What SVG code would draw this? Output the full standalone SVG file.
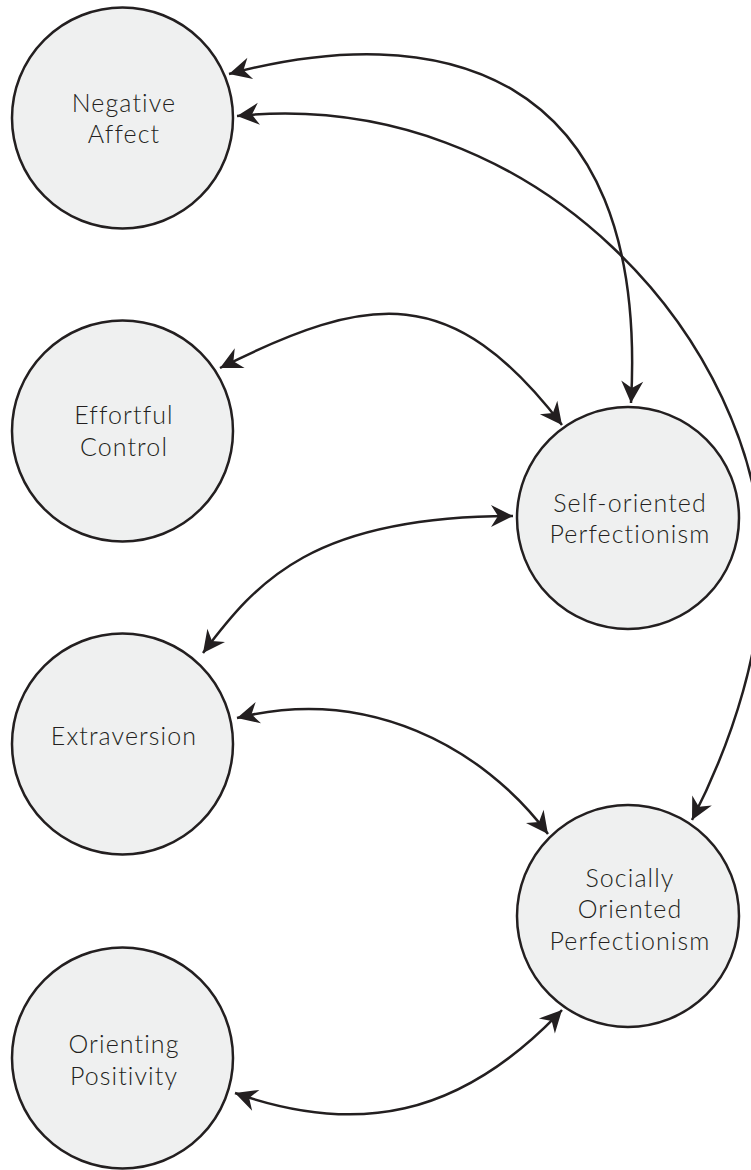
<svg xmlns="http://www.w3.org/2000/svg" width="751" height="1170" viewBox="0 0 751 1170">
  <style>
    .node circle { fill: #eff0f0; stroke: #231f20; stroke-width: 2.5; }
    .node text { font-family: Lato, "Liberation Sans", sans-serif; font-weight: 300; font-size: 25px; letter-spacing: 1.1px; fill: #231f20; text-anchor: middle; }
    .edge { fill: none; stroke: #231f20; stroke-width: 2.5; marker-start: url(#arrow); marker-end: url(#arrow); }
  </style>
  <defs>
    <marker id="arrow" markerUnits="userSpaceOnUse" viewBox="-24 -13 26 26" markerWidth="26" markerHeight="26" refX="0" refY="0" orient="auto-start-reverse">
      <path d="M0,0 L-22,-11 L-15,0 L-22,11 Z" fill="#231f20"/>
    </marker>
  </defs>
  <rect width="751" height="1170" fill="#ffffff"/>

  <g id="node-negative-affect" class="node">
    <circle cx="122.5" cy="118" r="110.5"/>
    <text x="124" y="112">Negative</text>
    <text x="124" y="143">Affect</text>
  </g>
  <g id="node-effortful-control" class="node">
    <circle cx="122.5" cy="431" r="110.5"/>
    <text x="124" y="424">Effortful</text>
    <text x="124" y="456">Control</text>
  </g>
  <g id="node-extraversion" class="node">
    <circle cx="122.5" cy="744" r="110.5"/>
    <text x="124" y="745">Extraversion</text>
  </g>
  <g id="node-orienting-positivity" class="node">
    <circle cx="122.5" cy="1058" r="110.5"/>
    <text x="124" y="1053">Orienting</text>
    <text x="124" y="1085">Positivity</text>
  </g>
  <g id="node-self-oriented" class="node">
    <circle cx="628" cy="518" r="111"/>
    <text x="630" y="512">Self-oriented</text>
    <text x="630" y="543">Perfectionism</text>
  </g>
  <g id="node-socially-oriented" class="node">
    <circle cx="628" cy="916" r="111"/>
    <text x="630" y="887">Socially</text>
    <text x="630" y="918">Oriented</text>
    <text x="630" y="950">Perfectionism</text>
  </g>

  <g id="connectors">
    <path class="edge" d="M229,74 C430,20 650,60 631,403"/>
    <path class="edge" d="M237,116 C537,86 762,345 762,565 C762,645 735,736 692,820"/>
    <path class="edge" d="M220,368 C370,293 452,282 562,425"/>
    <path class="edge" d="M513,516 C313,516 257,581 203,653"/>
    <path class="edge" d="M237,718 C367,685.5 482,746 548,834"/>
    <path class="edge" d="M235,1093 C355,1135 458.5,1119.5 562,1010"/>
  </g>
</svg>
